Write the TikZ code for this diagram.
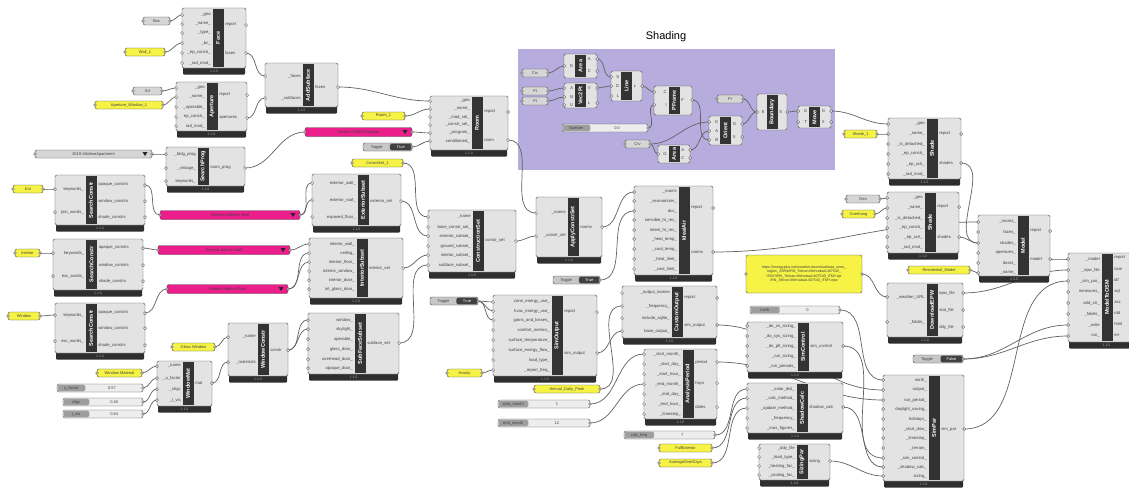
\documentclass[tikz,border=0pt]{standalone}
\usepackage{fontspec}
\setmainfont{Liberation Sans}
\pgfdeclarelayer{groupbg}
\pgfdeclarelayer{wires}
\pgfsetlayers{groupbg,wires,main}
\definecolor{grppurple}{RGB}{183,172,222}
\definecolor{ghyellow}{RGB}{246,243,70}
\definecolor{ghmagenta}{RGB}{236,30,140}

\tikzset{
  ghbody/.style={draw=black!70, fill=black!11, line width=0.4pt, rounded corners=1.5pt},
  ghbar/.style={fill=black!80},
  ghfoot/.style={fill=black!82, rounded corners=1pt},
  ghtitle/.style={text=white, font=\bfseries\fontsize{5.5}{6}\selectfont, rotate=90, inner sep=0pt},
  ghlbl/.style={font=\fontsize{4.2}{5}\selectfont, text=black!75, inner sep=0.6pt},
  ghver/.style={font=\fontsize{3.5}{4}\selectfont, text=black!35, inner sep=0pt},
  ghport/.style={draw=black!75, fill=white, line width=0.35pt},
  ghtxt/.style={font=\fontsize{4}{5}\selectfont, text=black!75, inner sep=0pt},
  ghyel/.style={draw=black!70, fill=ghyellow, rounded corners=2pt,
    minimum height=8pt, inner sep=0.5pt, font=\fontsize{4}{5}\selectfont, text=black!75},
  ghgray/.style={ghyel, fill=black!16},
  ghpink/.style={ghyel, fill=ghmagenta, minimum height=9pt},
  ghslide/.style={ghyel, fill=black!7},
  wire/.style={draw=black!62, line width=0.7pt},
}

\newif\ifghfoot \ghfoottrue
% component: id, x1, y1, x2, y2, bar x, title, inputs, outputs
\newcommand{\ghcomp}[9]{%
  \ifghfoot
    \fill[ghfoot] (#2+1,#5-2) rectangle (#4-1,#5+6.5);
    \node[ghver] at ({(#2+#4)/2},#5+3.6) {1.1.0};
  \fi
  \draw[ghbody] (#2,#3) rectangle (#4,#5);
  \fill[ghbar] (#6-5.5,#3+0.8) rectangle (#6+5.5,#5-0.8);
  \node[ghtitle] (#1) at (#6,{(#3+#5)/2}) {#7};
  \foreach \py/\lbl [count=\k] in {#8} {
    \coordinate (#1-i\k) at (#2,\py);
    \node[ghlbl, anchor=east] at (#6-6.5,\py) {\lbl};
    \draw[ghport] (#1-i\k) circle[radius=1.5pt];
  }
  \foreach \py/\lbl [count=\k] in {#9} {
    \coordinate (#1-o\k) at (#4,\py);
    \node[ghlbl, anchor=west] at (#6+6.5,\py) {\lbl};
    \draw[ghport] (#1-o\k) circle[radius=1.5pt];
  }
}
% panel: id, style, x1, x2, y, text
\newcommand{\ghpanel}[6]{%
  \node[#2, minimum width={(#4-#3)*1pt}] (#1) at ({(#3+#4)/2},#5) {#6};
  \coordinate (#1-i) at (#3,#5);
  \coordinate (#1-o) at (#4,#5);
  \draw[ghport] (#1-i) circle[radius=1.4pt] (#1-o) circle[radius=1.4pt];
}
\newcommand{\ghdrop}[6]{%
  \ghpanel{#1}{#2}{#3}{#4}{#5}{#6}
  \fill[black!85] (#4-9.5,#5-2) -- (#4-4.5,#5-2) -- (#4-7,#5+2) -- cycle;
}
% slider: id, x1, x2, y, label, value
\newcommand{\ghslider}[6]{%
  \node[ghslide, minimum width={(#3-#2)*1pt}] (#1) at ({(#2+#3)/2},#4) {};
  \fill[black!38, rounded corners=1.5pt] (#2+0.7,#4-3.3) rectangle ({#2+0.33*(#3-#2)},#4+3.3);
  \node[ghtxt] at ({#2+0.165*(#3-#2)},#4) {#5};
  \node[ghtxt] at ({#2+0.64*(#3-#2)},#4) {#6};
  \coordinate (#1-o) at (#3,#4);
  \draw[ghport] (#1-o) circle[radius=1.4pt];
}
% toggle: id, x1, x2, y, value
\newcommand{\ghtoggle}[5]{%
  \node[ghslide, fill=black!22, minimum width={(#3-#2)*1pt}] (#1) at ({(#2+#3)/2},#4) {};
  \fill[black!75, rounded corners=1.5pt] ({#2+0.55*(#3-#2)},#4-3.3) rectangle (#3-0.7,#4+3.3);
  \node[ghtxt] at ({#2+0.28*(#3-#2)},#4) {Toggle};
  \node[ghtxt, text=white] at ({#2+0.77*(#3-#2)},#4) {#5};
  \coordinate (#1-o) at (#3,#4);
  \draw[ghport] (#1-o) circle[radius=1.4pt];
}
\newcommand{\wire}[2]{\draw[wire] (#1) to[out=0,in=180] (#2);}

\begin{document}
\begin{tikzpicture}[x=1pt,y=-1pt]
\useasboundingbox (0,0) rectangle (1129,488);
\begin{pgfonlayer}{groupbg}
  \fill[white] (0,0) rectangle (1129,488);
  \fill[grppurple] (518,49) rectangle (835,170);
\end{pgfonlayer}
\node[font=\fontsize{11}{13}\selectfont] (shadtitle) at (666,37) {Shading};

% geometry
\ghpanel{pbox}{ghgray}{143}{170}{21}{Box}
\ghpanel{pwall}{ghyel}{125}{165}{52}{Wall\_1}
\ghpanel{psrf}{ghgray}{133}{162}{91}{Srf}
\ghpanel{pwin}{ghyel}{95}{163}{105}{Aperture\_Window\_1}
\ghcomp{face}{182}{8}{246}{68}{218}{Face}{15/\_geo, 24/\_name\_, 33/\_type\_, 43/\_bc\_, 53/\_ep\_constr\_, 63/\_rad\_mod\_}{25/report, 53/faces}
\ghcomp{aper}{176}{82}{247}{131}{212}{Aperture}{88/\_geo, 97/\_name\_, 107/\_operable\_, 117/ep\_constr\_, 126/rad\_mod\_}{95/report, 118/apertures}
\ghcomp{addsub}{265}{63}{338}{107}{308}{AddSubface}{76/\_faces, 98/\_subfaces}{87/faces}
\ghpanel{proom}{ghyel}{362}{405}{116}{Room\_1}
\ghdrop{dprog}{ghpink}{305}{412}{132}{Generic Office Program}
\ghtoggle{tcond}{363}{412}{147}{True}
\ghcomp{room}{430}{96}{508}{150}{477}{Room}{101/\_geo, 109/\_name\_, 117/\_mod\_set\_, 125/\_constr\_set\_, 133/\_program\_, 141/conditioned\_}{112/report, 140/room}
\ghdrop{vlprog}{ghgray}{35}{152}{154}{2019::MidriseApartment}
\ghcomp{sprog}{166}{147}{245}{186}{203}{SearchProg}{154/\_bldg\_prog, 168/\_vintage\_, 181/keywords\_}{168/room\_prog}

% constructions
\ghpanel{pext}{ghyel}{13}{43}{189}{Ext}
\ghpanel{pint}{ghyel}{15}{40}{253}{Interior}
\ghpanel{pwnd}{ghyel}{8}{40}{316}{Window}
\ghcomp{sc1}{55}{175}{145}{225}{91}{SearchConstr}{189/keywords\_, 212/join\_words\_}{185/opaque\_constrs, 201/window\_constrs, 217/shade\_constrs}
\ghcomp{sc2}{53}{239}{143}{290}{91.5}{SearchConstr}{253/keywords\_, 276/exc\_words\_}{248/opaque\_constrs, 265/window\_constrs, 281/shade\_constrs}
\ghcomp{sc3}{55}{303}{145}{353}{91}{SearchConstr}{315/keywords\_, 341/exc\_words\_}{313/opaque\_constrs, 328/window\_constrs, 345/shade\_constrs}
\ghdrop{dext}{ghpink}{160}{300}{215}{Generic Exterior Wall}
\ghdrop{dint}{ghpink}{158}{290}{250}{Generic Interior Wall}
\ghdrop{dflr}{ghpink}{167}{288}{289}{Generic Interior Floor}
\ghcomp{extsub}{312}{174}{401}{226}{363}{ExteriorSubset}{183/exterior\_wall\_, 200/exterior\_roof\_, 217/exposed\_floor\_}{201/exterior\_set}
\ghcomp{intsub}{309}{238}{403}{298}{362}{InteriorSubset}{244/interior\_wall\_, 253/ceiling\_, 262/interior\_floor\_, 271/interior\_window\_, 280/interior\_door\_, 289/int\_glass\_door\_}{268/interior\_set}
\ghcomp{subsub}{308}{313}{399}{374}{360}{SubFaceSubset}{320/window\_, 329/skylight\_, 339/operable\_, 349/glass\_door\_, 359/overhead\_door\_, 368/opaque\_door\_}{343/subface\_set}
\ghpanel{pwname}{ghyel}{172}{215}{347}{Glass Window}
\ghpanel{pwmat}{ghyel}{97}{142}{373}{Window Material}
\ghslider{swu}{57}{143}{388}{u\_factor}{0.57}
\ghslider{sws}{63}{143}{402}{shgc}{0.45}
\ghslider{swt}{63}{143}{414}{t\_vis}{0.64}
\ghcomp{wconstr}{228}{323}{288}{376}{263}{WindowConstr}{337/\_name, 362/\_materials}{350/constr}
\ghcomp{wmat}{157}{361}{212}{406}{188}{WindowMat}{366/\_name, 378/\_u\_factor, 389/\_shgc, 400/\_t\_vis}{383/mat}
\ghpanel{pcset}{ghyel}{352}{403}{163}{ConstrSet\_1}
\ghcomp{cset}{428}{210}{516}{272}{478}{ConstructionSet}{217/\_name, 227/base\_constr\_set\_, 236/exterior\_subset\_, 246/ground\_subset\_, 255/interior\_subset\_, 265/subface\_subset\_}{241/constr\_set}
\ghcomp{applyc}{536}{197}{602}{257}{573}{ApplyConstrSet}{213/\_rooms, 236/\_constr\_set}{227/rooms}
\ghtoggle{tideal}{553}{600}{280}{True}
\ghcomp{ideal}{634}{186}{713}{275}{684}{IdealAir}{192/\_rooms, 201/\_economizer\_, 211/dcv\_, 220/sensible\_ht\_rec\_, 230/latent\_ht\_rec\_, 239/\_heat\_temp\_, 249/\_cool\_temp\_, 259/\_heat\_limit\_, 269/\_cool\_limit\_}{208/report, 252/rooms}

% simulation
\ghtoggle{tsimout}{430}{478}{301}{True}
\ghpanel{phourly}{ghyel}{447}{482}{373}{Hourly}
\ghcomp{simout}{493}{295}{597}{376}{557}{SimOutput}{302/zone\_energy\_use\_, 311/hvac\_energy\_use\_, 320/gains\_and\_losses\_, 330/comfort\_metrics\_, 340/surface\_temperature\_, 350/surface\_energy\_flow\_, 360/load\_type\_, 370/\_report\_freq\_}{312/report, 353/sim\_output}
\ghpanel{pannual}{ghyel}{534}{600}{389}{Annual\_Daily\_Peak}
\ghslider{smonth}{498}{590}{404}{start\_month}{1}
\ghslider{emonth}{498}{590}{423}{end\_month}{12}
\ghcomp{cust}{622}{286}{717}{338}{677}{CustomOutput}{293/\_output\_names, 306/\_frequency\_, 318/include\_sqlite\_, 331/base\_output\_}{298/report, 325/sim\_output}
\ghcomp{aperiod}{644}{349}{717}{419}{688}{AnalysisPeriod}{354/\_start\_month\_, 364/\_start\_day\_, 374/\_start\_hour\_, 384/\_end\_month\_, 394/\_end\_day\_, 404/\_end\_hour\_, 414/\_timestep\_}{362/period, 383/hoys, 407/dates}
\ghslider{scalc}{624}{715}{435}{calc\_freq}{7}
\ghpanel{pshd1}{ghyel}{659}{712}{448}{FullExterior}
\ghpanel{pshd2}{ghyel}{659}{712}{463}{AverageOverDays}
\ghslider{snorth}{750}{840}{310}{north}{0}
\ghcomp{simctl}{747}{322}{843}{372}{803}{SimControl}{326/\_do\_zn\_sizing\_, 336/\_do\_sys\_sizing\_, 346/\_do\_plt\_sizing\_, 356/\_run\_sizing\_, 366/\_run\_periods\_}{346/sim\_control}
\ghcomp{shcalc}{747}{383}{843}{433}{802}{ShadowCalc}{389/\_solar\_dist\_, 398/\_calc\_method\_, 408/\_update\_method\_, 418/\_frequency\_, 428/\_max\_figures\_}{407/shadow\_calc}
\ghcomp{sizing}{759}{444}{830}{480}{802}{SizingPar}{448/\_ddy\_file, 457/\_load\_type\_, 466/\_heating\_fac\_, 475/\_cooling\_fac\_}{461/sizing}
\ghcomp{simpar}{883}{375}{964}{481}{934}{SimPar}{380/north\_, 390/output\_, 400/run\_period\_, 409/daylight\_saving\_, 419/holidays\_, 429/\_start\_dow\_, 438/\_timestep\_, 448/\_terrain\_, 458/\_sim\_control\_, 467/\_shadow\_calc\_, 476/sizing\_}{429/sim\_par}
\node[ghyel, minimum width=116pt, minimum height=38pt, align=center, font=\fontsize{3.6}{4.6}\selectfont] (pepw) at (804,274)
  {https://energyplus.net/weather-download/asia\_wmo\_\\region\_2/IRN/IRN\_Tehran-Mehrabad.407540\_\\ITMY/IRN\_Tehran-Mehrabad.407540\_ITMY.zip\\IRN\_Tehran-Mehrabad.407540\_ITMY.epw};
\coordinate (pepw-o) at (862,274);
\draw[ghport] (pepw-o) circle[radius=1.4pt] (746,274) circle[radius=1.4pt];
\ghcomp{epw}{887}{283}{963}{337}{932}{DownloadEPW}{297/\_weather\_URL, 322/\_folder\_}{293/epw\_file, 310/stat\_file, 327/ddy\_file}

% shades and model
\ghpanel{pshd}{ghyel}{844}{877}{134}{Shade\_1}
\ghpanel{pshgeo}{ghgray}{846}{880}{199}{Geo}
\ghpanel{pshnm}{ghyel}{842}{875}{214}{Overhang}
\ghcomp{shade1}{888}{118}{961}{179}{932}{Shade}{124/\_geo, 134/\_name\_, 144/\_is\_detached\_, 154/\_ep\_constr\_, 164/\_ep\_sch\_, 174/\_rad\_mod\_}{134/report, 163/shades}
\ghcomp{shade2}{887}{192}{959}{253}{930}{Shade}{198/\_geo, 208/\_name\_, 218/\_is\_detached\_, 228/\_ep\_constr\_, 237/\_ep\_sch\_, 247/\_rad\_mod\_}{207/report, 237/shades}
\ghpanel{pmodel}{ghyel}{908}{970}{270}{Residential\_Model}
\ghcomp{model}{978}{215}{1050}{276}{1023}{Model}{222/\_rooms\_, 232/faces\_, 243/shades\_, 253/apertures\_, 263/doors\_, 273/\_name\_}{231/report, 259/model}
\ghtoggle{tosm}{913}{963}{359}{False}
\ghcomp{osm}{1068}{253}{1145}{342}{1107}{ModelToOSM}{259/\_model, 270/\_epw\_file, 281/\_sim\_par\_, 292/measures\_, 303/add\_str\_, 314/\_folder\_, 325/\_write, 336/run\_}{258/report, 269/osm, 280/idf, 291/sql, 302/zsz, 313/rdd, 324/html, 335/err}

% shading group
\ghpanel{pcrv1}{ghgray}{522}{548}{73}{Crv}
\ghpanel{ppt1}{ghgray}{522}{548}{91}{Pt}
\ghpanel{ppt2}{ghgray}{522}{548}{101}{Pt}
\ghslider{snum}{562}{648}{128}{Number}{0.0}
\ghpanel{pcrv2}{ghgray}{625}{650}{144}{Crv}
\ghpanel{ppt3}{ghgray}{717}{743}{99}{Pt}
\ghfootfalse
\ghcomp{area1}{564}{54}{597}{78}{580.5}{Area}{66/G}{59/A, 71/C}
\ghcomp{vtwop}{564}{83}{597}{108}{580.5}{Vec2Pt}{88/A, 97/B, 105/U}{88/V, 103/L}
\ghcomp{ln}{611}{71}{642}{101}{626.5}{Line}{77/S, 86/D, 96/L}{86/L}
\ghcomp{pframe}{654}{86}{692}{115}{674}{PFrame}{92/C, 105/t}{100/F}
\ghcomp{area2}{658}{145}{690}{163}{674}{Area}{154/G}{150/A, 158/C}
\ghcomp{orient}{709}{116}{742}{145}{725.5}{Orient}{122/G, 131/A, 140/B}{124/G, 137/X}
\ghcomp{bound}{757}{94}{787}{130}{772}{Boundary}{112/E}{112/S}
\ghcomp{move}{798}{106}{831}{128}{814.5}{Move}{111/G, 122/T}{111/G, 122/X}
\ghfoottrue

\begin{pgfonlayer}{wires}
  \wire{pbox-o}{face-i1}
  \wire{pwall-o}{face-i4}
  \wire{psrf-o}{aper-i1}
  \wire{pwin-o}{aper-i2}
  \wire{face-o2}{addsub-i1}
  \wire{aper-o2}{addsub-i2}
  \wire{addsub-o1}{room-i1}
  \wire{proom-o}{room-i2}
  \wire{vlprog-o}{sprog-i1}
  \wire{sprog-o1}{dprog-i}
  \wire{dprog-o}{room-i5}
  \wire{tcond-o}{room-i6}
  \wire{room-o2}{applyc-i1}
  \wire{pext-o}{sc1-i1}
  \wire{pint-o}{sc2-i1}
  \wire{pwnd-o}{sc3-i1}
  \wire{sc1-o1}{dext-i}
  \wire{sc2-o1}{dint-i}
  \wire{sc3-o1}{dflr-i}
  \wire{dext-o}{extsub-i1}
  \wire{dext-o}{extsub-i2}
  \wire{dint-o}{intsub-i1}
  \wire{dflr-o}{intsub-i2}
  \wire{dflr-o}{intsub-i3}
  \wire{pwname-o}{wconstr-i1}
  \wire{wmat-o1}{wconstr-i2}
  \wire{pwmat-o}{wmat-i1}
  \wire{swu-o}{wmat-i2}
  \wire{sws-o}{wmat-i3}
  \wire{swt-o}{wmat-i4}
  \wire{wconstr-o1}{subsub-i1}
  \wire{wconstr-o1}{subsub-i2}
  \wire{pcset-o}{cset-i1}
  \wire{extsub-o1}{cset-i3}
  \wire{intsub-o1}{cset-i5}
  \wire{subsub-o1}{cset-i6}
  \wire{cset-o1}{applyc-i2}
  \wire{applyc-o1}{ideal-i1}
  \wire{tideal-o}{ideal-i3}
  \wire{ideal-o2}{model-i1}
  \wire{tsimout-o}{simout-i1}
  \wire{tsimout-o}{simout-i2}
  \wire{tsimout-o}{simout-i3}
  \wire{phourly-o}{simout-i8}
  \wire{simout-o2}{cust-i4}
  \wire{pannual-o}{cust-i2}
  \wire{smonth-o}{aperiod-i1}
  \wire{emonth-o}{aperiod-i4}
  \wire{cust-o2}{simpar-i2}
  \wire{aperiod-o1}{simpar-i3}
  \wire{snorth-o}{simpar-i1}
  \wire{simctl-o1}{simpar-i9}
  \wire{shcalc-o1}{simpar-i10}
  \wire{sizing-o1}{simpar-i11}
  \wire{scalc-o}{shcalc-i1}
  \wire{pshd1-o}{shcalc-i2}
  \wire{pshd2-o}{shcalc-i3}
  \wire{simpar-o1}{osm-i3}
  \wire{pepw-o}{epw-i1}
  \wire{epw-o1}{osm-i2}
  \wire{model-o2}{osm-i1}
  \wire{tosm-o}{osm-i7}
  \wire{tosm-o}{osm-i8}
  \wire{pmodel-o}{model-i6}
  \wire{shade1-o2}{model-i3}
  \wire{shade2-o2}{model-i3}
  \wire{pshgeo-o}{shade2-i1}
  \wire{pshnm-o}{shade2-i2}
  \wire{pshd-o}{shade1-i2}
  \wire{move-o1}{shade1-i1}
  \wire{pcrv1-o}{area1-i1}
  \wire{area1-o1}{ln-i1}
  \wire{ppt1-o}{vtwop-i1}
  \wire{ppt2-o}{vtwop-i2}
  \wire{vtwop-o1}{ln-i2}
  \wire{ln-o1}{pframe-i1}
  \wire{snum-o}{pframe-i2}
  \wire{pframe-o1}{orient-i3}
  \wire{pcrv2-o}{area2-i1}
  \wire{pcrv2-o}{orient-i1}
  \wire{area2-o1}{orient-i2}
  \wire{orient-o1}{bound-i1}
  \wire{ppt3-o}{bound-i1}
  \wire{bound-o1}{move-i1}
\end{pgfonlayer}
\end{tikzpicture}
\end{document}
